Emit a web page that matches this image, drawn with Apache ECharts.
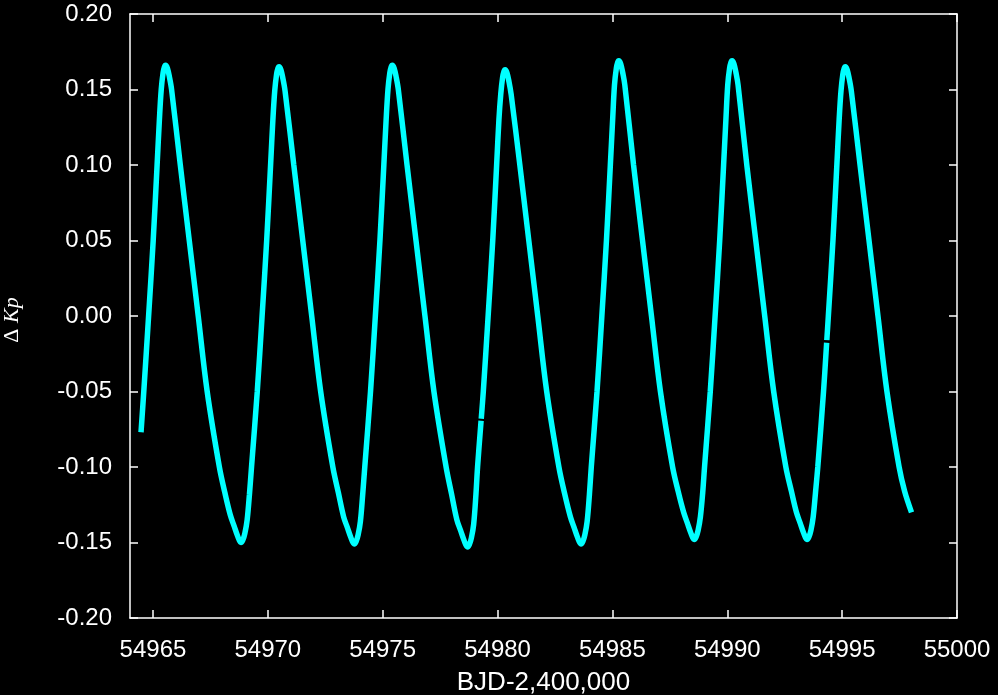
<!DOCTYPE html>
<html>
<head>
<meta charset="utf-8">
<script src="https://cdn.jsdelivr.net/npm/echarts@6/dist/echarts.min.js"></script>
<style>
html,body{margin:0;padding:0;background:#000;}
#c{width:998px;height:695px;}
</style>
</head>
<body>
<div id="c"></div>
<script>
// Time (BJD-2,400,000) and Delta Kp (null = data gap)
const time = [
  54964.48, 54964.60, 54964.81, 54965.01, 54965.18, 54965.28, 54965.36, 54965.44, 54965.50, 54965.55,
  54965.63, 54965.72, 54965.81, 54966.19, 54966.58, 54966.97, 54967.36, 54967.89, 54968.13, 54968.37, 54968.53, 54968.68, 54968.83,
  54968.91, 54969.00, 54969.10, 54969.20, 54969.29, 54969.54, 54969.75, 54969.95, 54970.12, 54970.22, 54970.30, 54970.38, 54970.44, 54970.49,
  54970.57, 54970.66, 54970.75, 54971.13, 54971.52, 54971.91, 54972.30, 54972.83, 54973.07, 54973.30, 54973.46, 54973.61, 54973.76,
  54973.84, 54973.93, 54974.03, 54974.13, 54974.22, 54974.47, 54974.68, 54974.88, 54975.05, 54975.15, 54975.23, 54975.31, 54975.37, 54975.42,
  54975.50, 54975.59, 54975.68, 54976.06, 54976.45, 54976.84, 54977.23, 54977.76, 54978.00, 54978.23, 54978.39, 54978.54, 54978.69,
  54978.77, 54978.86, 54978.96, 54979.06, 54979.13, 54979.283, 54979.286, 54979.290, 54979.38, 54979.59, 54979.79, 54979.96, 54980.06, 54980.14, 54980.22, 54980.28, 54980.33,
  54980.41, 54980.50, 54980.59, 54980.97, 54981.36, 54981.75, 54982.14, 54982.67, 54982.91, 54983.17, 54983.33, 54983.48, 54983.63,
  54983.71, 54983.80, 54983.90, 54984.00, 54984.08, 54984.33, 54984.54, 54984.74, 54984.91, 54985.01, 54985.09, 54985.17, 54985.23, 54985.28,
  54985.36, 54985.45, 54985.54, 54985.92, 54986.31, 54986.70, 54987.09, 54987.62, 54987.86, 54988.10, 54988.26, 54988.41, 54988.56,
  54988.64, 54988.73, 54988.83, 54988.93, 54989.01, 54989.26, 54989.47, 54989.67, 54989.84, 54989.94, 54990.02, 54990.10, 54990.16, 54990.21,
  54990.29, 54990.38, 54990.47, 54990.85, 54991.24, 54991.63, 54992.02, 54992.55, 54992.79, 54993.01, 54993.17, 54993.32, 54993.47,
  54993.55, 54993.64, 54993.74, 54993.84, 54993.94, 54994.19, 54994.326, 54994.329, 54994.333, 54994.40, 54994.60, 54994.77, 54994.87, 54994.95, 54995.03, 54995.09, 54995.14,
  54995.22, 54995.31, 54995.40, 54995.78, 54996.17, 54996.56, 54996.95, 54997.48, 54997.72, 54998.02
];
const dKp = [
  -0.077, -0.050, 0.000, 0.050, 0.100, 0.130, 0.150, 0.161, 0.165, 0.166,
  0.164, 0.158, 0.150, 0.100, 0.050, 0.000, -0.050, -0.100, -0.117, -0.132, -0.139, -0.1455, -0.150,
  -0.1485, -0.144, -0.135, -0.118, -0.100, -0.050, 0.000, 0.050, 0.100, 0.130, 0.149, 0.160, 0.164, 0.165,
  0.163, 0.157, 0.149, 0.100, 0.050, 0.000, -0.050, -0.100, -0.117, -0.133, -0.140, -0.1465, -0.151,
  -0.1495, -0.145, -0.136, -0.118, -0.100, -0.050, 0.000, 0.050, 0.100, 0.130, 0.150, 0.161, 0.165, 0.166,
  0.164, 0.158, 0.150, 0.100, 0.050, 0.000, -0.050, -0.100, -0.118, -0.135, -0.142, -0.1485, -0.153,
  -0.1515, -0.147, -0.138, -0.118, -0.100, -0.0694, null, -0.0680, -0.050, 0.000, 0.050, 0.100, 0.130, 0.147, 0.158, 0.162, 0.163,
  0.161, 0.155, 0.147, 0.100, 0.050, 0.000, -0.050, -0.100, -0.117, -0.133, -0.140, -0.1465, -0.151,
  -0.1495, -0.145, -0.136, -0.118, -0.100, -0.050, 0.000, 0.050, 0.100, 0.130, 0.153, 0.164, 0.168, 0.169,
  0.167, 0.161, 0.153, 0.100, 0.050, 0.000, -0.050, -0.100, -0.116, -0.130, -0.137, -0.1435, -0.148,
  -0.1465, -0.142, -0.133, -0.117, -0.100, -0.050, 0.000, 0.050, 0.100, 0.130, 0.153, 0.164, 0.168, 0.169,
  0.167, 0.161, 0.153, 0.100, 0.050, 0.000, -0.050, -0.100, -0.116, -0.130, -0.137, -0.1435, -0.148,
  -0.1465, -0.142, -0.133, -0.117, -0.100, -0.050, -0.0177, null, -0.0160, 0.000, 0.050, 0.100, 0.130, 0.149, 0.160, 0.164, 0.165,
  0.163, 0.157, 0.149, 0.100, 0.050, 0.000, -0.050, -0.100, -0.116, -0.130
];
const xTicks = [54965, 54970, 54975, 54980, 54985, 54990, 54995, 55000];
const yTicks = [-0.20, -0.15, -0.10, -0.05, 0.00, 0.05, 0.10, 0.15, 0.20];
const xRange = [54964, 55000];
const yRange = [-0.20, 0.20];

const chart = echarts.init(document.getElementById('c'), null, {renderer: 'canvas'});
const data = time.map((t, i) => [t, dKp[i] === null ? '-' : dKp[i]]);
const font = '"Liberation Sans", Arial, Helvetica, sans-serif';
const lineStyle = {color: '#ffffff', width: 1.5};
const tickStyle = {show: true, inside: true, length: 8, lineStyle: {color: '#ffffff', width: 1.5}};
const fmtY = v => (Math.abs(v) < 1e-9 ? 0 : v).toFixed(2);
const fmtX = v => String(Math.round(v));

chart.setOption({
  backgroundColor: '#000000',
  animation: false,
  grid: {left: 130, right: 41, top: 14, bottom: 77, containLabel: false, outerBoundsMode: 'none'},
  xAxis: [{
    type: 'value', position: 'bottom', min: xRange[0], max: xRange[1],
    axisLine: {show: true, onZero: false, lineStyle},
    axisTick: Object.assign({customValues: xTicks}, tickStyle),
    axisLabel: {customValues: xTicks, color: '#ffffff', fontSize: 24, fontFamily: font, margin: 20, formatter: fmtX},
    splitLine: {show: false},
    name: 'BJD-2,400,000', nameLocation: 'middle', nameGap: 52,
    nameTextStyle: {color: '#ffffff', fontSize: 26, fontFamily: font}
  }, {
    type: 'value', position: 'top', min: xRange[0], max: xRange[1],
    axisLine: {show: true, onZero: false, lineStyle},
    axisTick: Object.assign({customValues: xTicks}, tickStyle),
    axisLabel: {show: false},
    splitLine: {show: false}
  }],
  yAxis: [{
    type: 'value', position: 'left', min: yRange[0], max: yRange[1],
    axisLine: {show: true, onZero: false, lineStyle},
    axisTick: Object.assign({customValues: yTicks}, tickStyle),
    axisLabel: {customValues: yTicks, color: '#ffffff', fontSize: 24, fontFamily: font, margin: 18, formatter: fmtY},
    splitLine: {show: false},
    name: '{d|Δ }{k|Kp}', nameLocation: 'middle', nameGap: 107, nameRotate: 90,
    nameTextStyle: {
      color: '#ffffff', padding: [0, 8, 0, 0],
      rich: {
        d: {color: '#ffffff', fontSize: 22, fontFamily: '"Liberation Serif", "DejaVu Serif", serif'},
        k: {color: '#ffffff', fontSize: 22, fontStyle: 'italic', fontFamily: '"Liberation Serif", "DejaVu Serif", serif'}
      }
    }
  }, {
    type: 'value', position: 'right', min: yRange[0], max: yRange[1],
    axisLine: {show: true, onZero: false, lineStyle},
    axisTick: Object.assign({customValues: yTicks}, tickStyle),
    axisLabel: {show: false},
    splitLine: {show: false}
  }],
  series: [{
    type: 'line', xAxisIndex: 0, yAxisIndex: 0,
    data: data,
    showSymbol: false, symbol: 'none',
    smooth: 0.35, connectNulls: false,
    lineStyle: {color: '#00ffff', width: 5.5},
    clip: true
  }]
});
</script>
</body>
</html>
